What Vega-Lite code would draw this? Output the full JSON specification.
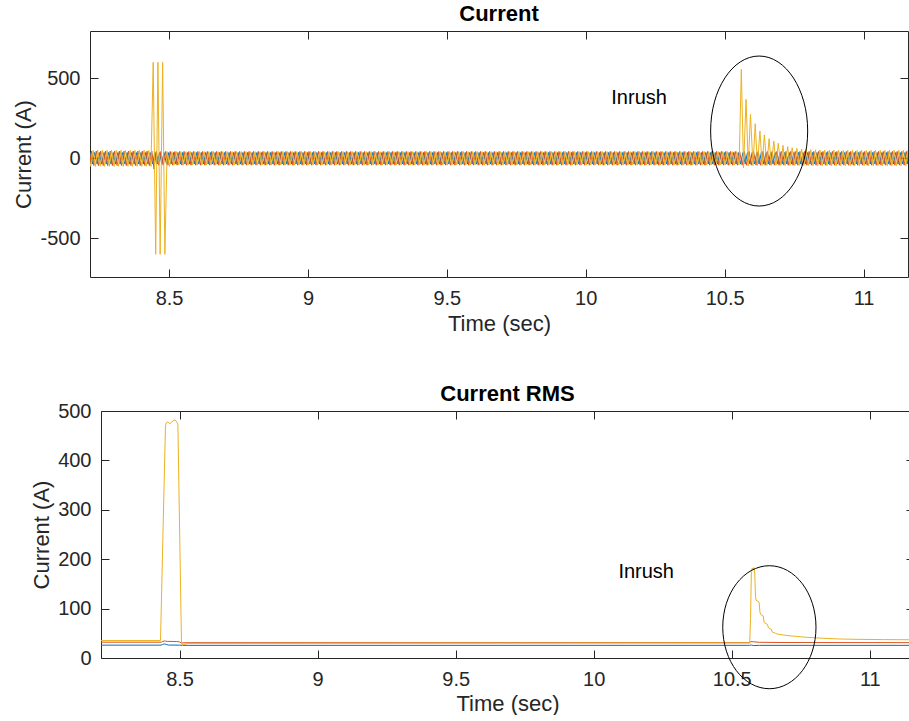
{
  "$schema": "https://vega.github.io/schema/vega-lite/v6.json",
  "background": "white",
  "padding": {"left": 12, "top": 2, "right": 0, "bottom": 0},
  "bounds": "flush",
  "spacing": 134,
  "config": {
    "font": "Liberation Sans",
    "view": {"stroke": "#262626", "strokeWidth": 1},
    "axis": {
      "grid": false,
      "domain": false,
      "tickSize": -8,
      "tickColor": "#262626",
      "tickWidth": 1,
      "labelColor": "#262626",
      "titleColor": "#262626",
      "labelFont": "Liberation Sans",
      "titleFont": "Liberation Sans",
      "titleFontWeight": "normal",
      "labelFontSize": 20,
      "titleFontSize": 22
    },
    "title": {"font": "Liberation Sans", "fontWeight": "bold", "fontSize": 22, "color": "#000000"}
  },
  "datasets": {
    "phaseA": [
      {"t":8.207,"i":-36},{"t":8.216,"i":36},{"t":8.224,"i":-36},{"t":8.232,"i":36},{"t":8.241,"i":-36},{"t":8.249,"i":36},{"t":8.257,"i":-36},{"t":8.266,"i":36},{"t":8.274,"i":-36},{"t":8.282,"i":36},{"t":8.291,"i":-36},{"t":8.299,"i":36},
      {"t":8.307,"i":-36},{"t":8.316,"i":36},{"t":8.324,"i":-36},{"t":8.332,"i":36},{"t":8.341,"i":-36},{"t":8.349,"i":36},{"t":8.357,"i":-36},{"t":8.366,"i":36},{"t":8.374,"i":-36},{"t":8.382,"i":36},{"t":8.391,"i":-36},{"t":8.399,"i":36},
      {"t":8.407,"i":-36},{"t":8.416,"i":36},{"t":8.424,"i":-36},{"t":8.432,"i":36},{"t":8.441,"i":-36},{"t":8.449,"i":36},{"t":8.457,"i":-36},{"t":8.466,"i":36},{"t":8.474,"i":-36},{"t":8.482,"i":36},{"t":8.491,"i":-36},{"t":8.499,"i":36},
      {"t":8.507,"i":-36},{"t":8.516,"i":36},{"t":8.524,"i":-36},{"t":8.532,"i":36},{"t":8.541,"i":-36},{"t":8.549,"i":36},{"t":8.557,"i":-36},{"t":8.566,"i":36},{"t":8.574,"i":-36},{"t":8.582,"i":36},{"t":8.591,"i":-36},{"t":8.599,"i":36},
      {"t":8.607,"i":-36},{"t":8.616,"i":36},{"t":8.624,"i":-36},{"t":8.632,"i":36},{"t":8.641,"i":-36},{"t":8.649,"i":36},{"t":8.657,"i":-36},{"t":8.666,"i":36},{"t":8.674,"i":-36},{"t":8.682,"i":36},{"t":8.691,"i":-36},{"t":8.699,"i":36},
      {"t":8.707,"i":-36},{"t":8.716,"i":36},{"t":8.724,"i":-36},{"t":8.732,"i":36},{"t":8.741,"i":-36},{"t":8.749,"i":36},{"t":8.757,"i":-36},{"t":8.766,"i":36},{"t":8.774,"i":-36},{"t":8.782,"i":36},{"t":8.791,"i":-36},{"t":8.799,"i":36},
      {"t":8.807,"i":-36},{"t":8.816,"i":36},{"t":8.824,"i":-36},{"t":8.832,"i":36},{"t":8.841,"i":-36},{"t":8.849,"i":36},{"t":8.857,"i":-36},{"t":8.866,"i":36},{"t":8.874,"i":-36},{"t":8.882,"i":36},{"t":8.891,"i":-36},{"t":8.899,"i":36},
      {"t":8.907,"i":-36},{"t":8.916,"i":36},{"t":8.924,"i":-36},{"t":8.932,"i":36},{"t":8.941,"i":-36},{"t":8.949,"i":36},{"t":8.957,"i":-36},{"t":8.966,"i":36},{"t":8.974,"i":-36},{"t":8.982,"i":36},{"t":8.991,"i":-36},{"t":8.999,"i":36},
      {"t":9.007,"i":-36},{"t":9.016,"i":36},{"t":9.024,"i":-36},{"t":9.032,"i":36},{"t":9.041,"i":-36},{"t":9.049,"i":36},{"t":9.057,"i":-36},{"t":9.066,"i":36},{"t":9.074,"i":-36},{"t":9.082,"i":36},{"t":9.091,"i":-36},{"t":9.099,"i":36},
      {"t":9.107,"i":-36},{"t":9.116,"i":36},{"t":9.124,"i":-36},{"t":9.132,"i":36},{"t":9.141,"i":-36},{"t":9.149,"i":36},{"t":9.157,"i":-36},{"t":9.166,"i":36},{"t":9.174,"i":-36},{"t":9.182,"i":36},{"t":9.191,"i":-36},{"t":9.199,"i":36},
      {"t":9.207,"i":-36},{"t":9.216,"i":36},{"t":9.224,"i":-36},{"t":9.232,"i":36},{"t":9.241,"i":-36},{"t":9.249,"i":36},{"t":9.257,"i":-36},{"t":9.266,"i":36},{"t":9.274,"i":-36},{"t":9.282,"i":36},{"t":9.291,"i":-36},{"t":9.299,"i":36},
      {"t":9.307,"i":-36},{"t":9.316,"i":36},{"t":9.324,"i":-36},{"t":9.332,"i":36},{"t":9.341,"i":-36},{"t":9.349,"i":36},{"t":9.357,"i":-36},{"t":9.366,"i":36},{"t":9.374,"i":-36},{"t":9.382,"i":36},{"t":9.391,"i":-36},{"t":9.399,"i":36},
      {"t":9.407,"i":-36},{"t":9.416,"i":36},{"t":9.424,"i":-36},{"t":9.432,"i":36},{"t":9.441,"i":-36},{"t":9.449,"i":36},{"t":9.457,"i":-36},{"t":9.466,"i":36},{"t":9.474,"i":-36},{"t":9.482,"i":36},{"t":9.491,"i":-36},{"t":9.499,"i":36},
      {"t":9.507,"i":-36},{"t":9.516,"i":36},{"t":9.524,"i":-36},{"t":9.532,"i":36},{"t":9.541,"i":-36},{"t":9.549,"i":36},{"t":9.557,"i":-36},{"t":9.566,"i":36},{"t":9.574,"i":-36},{"t":9.582,"i":36},{"t":9.591,"i":-36},{"t":9.599,"i":36},
      {"t":9.607,"i":-36},{"t":9.616,"i":36},{"t":9.624,"i":-36},{"t":9.632,"i":36},{"t":9.641,"i":-36},{"t":9.649,"i":36},{"t":9.657,"i":-36},{"t":9.666,"i":36},{"t":9.674,"i":-36},{"t":9.682,"i":36},{"t":9.691,"i":-36},{"t":9.699,"i":36},
      {"t":9.707,"i":-36},{"t":9.716,"i":36},{"t":9.724,"i":-36},{"t":9.732,"i":36},{"t":9.741,"i":-36},{"t":9.749,"i":36},{"t":9.757,"i":-36},{"t":9.766,"i":36},{"t":9.774,"i":-36},{"t":9.782,"i":36},{"t":9.791,"i":-36},{"t":9.799,"i":36},
      {"t":9.807,"i":-36},{"t":9.816,"i":36},{"t":9.824,"i":-36},{"t":9.832,"i":36},{"t":9.841,"i":-36},{"t":9.849,"i":36},{"t":9.857,"i":-36},{"t":9.866,"i":36},{"t":9.874,"i":-36},{"t":9.882,"i":36},{"t":9.891,"i":-36},{"t":9.899,"i":36},
      {"t":9.907,"i":-36},{"t":9.916,"i":36},{"t":9.924,"i":-36},{"t":9.932,"i":36},{"t":9.941,"i":-36},{"t":9.949,"i":36},{"t":9.957,"i":-36},{"t":9.966,"i":36},{"t":9.974,"i":-36},{"t":9.982,"i":36},{"t":9.991,"i":-36},{"t":9.999,"i":36},
      {"t":10.007,"i":-36},{"t":10.016,"i":36},{"t":10.024,"i":-36},{"t":10.032,"i":36},{"t":10.041,"i":-36},{"t":10.049,"i":36},{"t":10.057,"i":-36},{"t":10.066,"i":36},{"t":10.074,"i":-36},{"t":10.082,"i":36},{"t":10.091,"i":-36},{"t":10.099,"i":36},
      {"t":10.107,"i":-36},{"t":10.116,"i":36},{"t":10.124,"i":-36},{"t":10.132,"i":36},{"t":10.141,"i":-36},{"t":10.149,"i":36},{"t":10.157,"i":-36},{"t":10.166,"i":36},{"t":10.174,"i":-36},{"t":10.182,"i":36},{"t":10.191,"i":-36},{"t":10.199,"i":36},
      {"t":10.207,"i":-36},{"t":10.216,"i":36},{"t":10.224,"i":-36},{"t":10.232,"i":36},{"t":10.241,"i":-36},{"t":10.249,"i":36},{"t":10.257,"i":-36},{"t":10.266,"i":36},{"t":10.274,"i":-36},{"t":10.282,"i":36},{"t":10.291,"i":-36},{"t":10.299,"i":36},
      {"t":10.307,"i":-36},{"t":10.316,"i":36},{"t":10.324,"i":-36},{"t":10.332,"i":36},{"t":10.341,"i":-36},{"t":10.349,"i":36},{"t":10.357,"i":-36},{"t":10.366,"i":36},{"t":10.374,"i":-36},{"t":10.382,"i":36},{"t":10.391,"i":-36},{"t":10.399,"i":36},
      {"t":10.407,"i":-36},{"t":10.416,"i":36},{"t":10.424,"i":-36},{"t":10.432,"i":36},{"t":10.441,"i":-36},{"t":10.449,"i":36},{"t":10.457,"i":-36},{"t":10.466,"i":36},{"t":10.474,"i":-36},{"t":10.482,"i":36},{"t":10.491,"i":-36},{"t":10.499,"i":36},
      {"t":10.507,"i":-36},{"t":10.516,"i":36},{"t":10.524,"i":-36},{"t":10.532,"i":36},{"t":10.541,"i":-36},{"t":10.549,"i":36},{"t":10.557,"i":-36},{"t":10.566,"i":36},{"t":10.574,"i":-36},{"t":10.582,"i":36},{"t":10.591,"i":-36},{"t":10.599,"i":36},
      {"t":10.607,"i":-36},{"t":10.616,"i":36},{"t":10.624,"i":-36},{"t":10.632,"i":36},{"t":10.641,"i":-36},{"t":10.649,"i":36},{"t":10.657,"i":-36},{"t":10.666,"i":36},{"t":10.674,"i":-36},{"t":10.682,"i":36},{"t":10.691,"i":-36},{"t":10.699,"i":36},
      {"t":10.707,"i":-36},{"t":10.716,"i":36},{"t":10.724,"i":-36},{"t":10.732,"i":36},{"t":10.741,"i":-36},{"t":10.749,"i":36},{"t":10.757,"i":-36},{"t":10.766,"i":36},{"t":10.774,"i":-36},{"t":10.782,"i":36},{"t":10.791,"i":-36},{"t":10.799,"i":36},
      {"t":10.807,"i":-36},{"t":10.816,"i":36},{"t":10.824,"i":-36},{"t":10.832,"i":36},{"t":10.841,"i":-36},{"t":10.849,"i":36},{"t":10.857,"i":-36},{"t":10.866,"i":36},{"t":10.874,"i":-36},{"t":10.882,"i":36},{"t":10.891,"i":-36},{"t":10.899,"i":36},
      {"t":10.907,"i":-36},{"t":10.916,"i":36},{"t":10.924,"i":-36},{"t":10.932,"i":36},{"t":10.941,"i":-36},{"t":10.949,"i":36},{"t":10.957,"i":-36},{"t":10.966,"i":36},{"t":10.974,"i":-36},{"t":10.982,"i":36},{"t":10.991,"i":-36},{"t":10.999,"i":36},
      {"t":11.007,"i":-36},{"t":11.016,"i":36},{"t":11.024,"i":-36},{"t":11.032,"i":36},{"t":11.041,"i":-36},{"t":11.049,"i":36},{"t":11.057,"i":-36},{"t":11.066,"i":36},{"t":11.074,"i":-36},{"t":11.082,"i":36},{"t":11.091,"i":-36},{"t":11.099,"i":36},
      {"t":11.107,"i":-36},{"t":11.116,"i":36},{"t":11.124,"i":-36},{"t":11.132,"i":36},{"t":11.141,"i":-36},{"t":11.149,"i":36},{"t":11.157,"i":-36},{"t":11.166,"i":36},{"t":11.174,"i":-36},{"t":11.182,"i":36},{"t":11.191,"i":-36},{"t":11.199,"i":36}
    ],
    "phaseB": [
      {"t":8.204,"i":45},{"t":8.213,"i":-45},{"t":8.221,"i":45},{"t":8.229,"i":-45},{"t":8.238,"i":45},{"t":8.246,"i":-45},{"t":8.254,"i":45},{"t":8.263,"i":-45},{"t":8.271,"i":45},{"t":8.279,"i":-45},{"t":8.288,"i":45},{"t":8.296,"i":-45},
      {"t":8.304,"i":45},{"t":8.313,"i":-45},{"t":8.321,"i":45},{"t":8.329,"i":-45},{"t":8.338,"i":45},{"t":8.346,"i":-45},{"t":8.354,"i":45},{"t":8.363,"i":-45},{"t":8.371,"i":45},{"t":8.379,"i":-45},{"t":8.388,"i":45},{"t":8.396,"i":-45},
      {"t":8.404,"i":45},{"t":8.413,"i":-45},{"t":8.421,"i":45},{"t":8.429,"i":-45},{"t":8.438,"i":45},{"t":8.446,"i":-67},{"t":8.454,"i":43},{"t":8.463,"i":-43},{"t":8.471,"i":43},{"t":8.479,"i":-43},{"t":8.488,"i":43},{"t":8.496,"i":-43},
      {"t":8.504,"i":43},{"t":8.513,"i":-43},{"t":8.521,"i":43},{"t":8.529,"i":-43},{"t":8.538,"i":43},{"t":8.546,"i":-43},{"t":8.554,"i":43},{"t":8.563,"i":-43},{"t":8.571,"i":43},{"t":8.579,"i":-43},{"t":8.588,"i":43},{"t":8.596,"i":-43},
      {"t":8.604,"i":43},{"t":8.613,"i":-43},{"t":8.621,"i":43},{"t":8.629,"i":-43},{"t":8.638,"i":43},{"t":8.646,"i":-43},{"t":8.654,"i":43},{"t":8.663,"i":-43},{"t":8.671,"i":43},{"t":8.679,"i":-43},{"t":8.688,"i":43},{"t":8.696,"i":-43},
      {"t":8.704,"i":43},{"t":8.713,"i":-43},{"t":8.721,"i":43},{"t":8.729,"i":-43},{"t":8.738,"i":43},{"t":8.746,"i":-43},{"t":8.754,"i":43},{"t":8.763,"i":-43},{"t":8.771,"i":43},{"t":8.779,"i":-43},{"t":8.788,"i":43},{"t":8.796,"i":-43},
      {"t":8.804,"i":43},{"t":8.813,"i":-43},{"t":8.821,"i":43},{"t":8.829,"i":-43},{"t":8.838,"i":43},{"t":8.846,"i":-43},{"t":8.854,"i":43},{"t":8.863,"i":-43},{"t":8.871,"i":43},{"t":8.879,"i":-43},{"t":8.888,"i":43},{"t":8.896,"i":-43},
      {"t":8.904,"i":43},{"t":8.913,"i":-43},{"t":8.921,"i":43},{"t":8.929,"i":-43},{"t":8.938,"i":43},{"t":8.946,"i":-43},{"t":8.954,"i":43},{"t":8.963,"i":-43},{"t":8.971,"i":43},{"t":8.979,"i":-43},{"t":8.988,"i":43},{"t":8.996,"i":-43},
      {"t":9.004,"i":43},{"t":9.013,"i":-43},{"t":9.021,"i":43},{"t":9.029,"i":-43},{"t":9.038,"i":43},{"t":9.046,"i":-43},{"t":9.054,"i":43},{"t":9.063,"i":-43},{"t":9.071,"i":43},{"t":9.079,"i":-43},{"t":9.088,"i":43},{"t":9.096,"i":-43},
      {"t":9.104,"i":43},{"t":9.113,"i":-43},{"t":9.121,"i":43},{"t":9.129,"i":-43},{"t":9.138,"i":43},{"t":9.146,"i":-43},{"t":9.154,"i":43},{"t":9.163,"i":-43},{"t":9.171,"i":43},{"t":9.179,"i":-43},{"t":9.188,"i":43},{"t":9.196,"i":-43},
      {"t":9.204,"i":43},{"t":9.213,"i":-43},{"t":9.221,"i":43},{"t":9.229,"i":-43},{"t":9.238,"i":43},{"t":9.246,"i":-43},{"t":9.254,"i":43},{"t":9.263,"i":-43},{"t":9.271,"i":43},{"t":9.279,"i":-43},{"t":9.288,"i":43},{"t":9.296,"i":-43},
      {"t":9.304,"i":43},{"t":9.313,"i":-43},{"t":9.321,"i":43},{"t":9.329,"i":-43},{"t":9.338,"i":43},{"t":9.346,"i":-43},{"t":9.354,"i":43},{"t":9.363,"i":-43},{"t":9.371,"i":43},{"t":9.379,"i":-43},{"t":9.388,"i":43},{"t":9.396,"i":-43},
      {"t":9.404,"i":43},{"t":9.413,"i":-43},{"t":9.421,"i":43},{"t":9.429,"i":-43},{"t":9.438,"i":43},{"t":9.446,"i":-43},{"t":9.454,"i":43},{"t":9.463,"i":-43},{"t":9.471,"i":43},{"t":9.479,"i":-43},{"t":9.488,"i":43},{"t":9.496,"i":-43},
      {"t":9.504,"i":43},{"t":9.513,"i":-43},{"t":9.521,"i":43},{"t":9.529,"i":-43},{"t":9.538,"i":43},{"t":9.546,"i":-43},{"t":9.554,"i":43},{"t":9.563,"i":-43},{"t":9.571,"i":43},{"t":9.579,"i":-43},{"t":9.588,"i":43},{"t":9.596,"i":-43},
      {"t":9.604,"i":43},{"t":9.613,"i":-43},{"t":9.621,"i":43},{"t":9.629,"i":-43},{"t":9.638,"i":43},{"t":9.646,"i":-43},{"t":9.654,"i":43},{"t":9.663,"i":-43},{"t":9.671,"i":43},{"t":9.679,"i":-43},{"t":9.688,"i":43},{"t":9.696,"i":-43},
      {"t":9.704,"i":43},{"t":9.713,"i":-43},{"t":9.721,"i":43},{"t":9.729,"i":-43},{"t":9.738,"i":43},{"t":9.746,"i":-43},{"t":9.754,"i":43},{"t":9.763,"i":-43},{"t":9.771,"i":43},{"t":9.779,"i":-43},{"t":9.788,"i":43},{"t":9.796,"i":-43},
      {"t":9.804,"i":43},{"t":9.813,"i":-43},{"t":9.821,"i":43},{"t":9.829,"i":-43},{"t":9.838,"i":43},{"t":9.846,"i":-43},{"t":9.854,"i":43},{"t":9.863,"i":-43},{"t":9.871,"i":43},{"t":9.879,"i":-43},{"t":9.888,"i":43},{"t":9.896,"i":-43},
      {"t":9.904,"i":43},{"t":9.913,"i":-43},{"t":9.921,"i":43},{"t":9.929,"i":-43},{"t":9.938,"i":43},{"t":9.946,"i":-43},{"t":9.954,"i":43},{"t":9.963,"i":-43},{"t":9.971,"i":43},{"t":9.979,"i":-43},{"t":9.988,"i":43},{"t":9.996,"i":-43},
      {"t":10.004,"i":43},{"t":10.013,"i":-43},{"t":10.021,"i":43},{"t":10.029,"i":-43},{"t":10.038,"i":43},{"t":10.046,"i":-43},{"t":10.054,"i":43},{"t":10.063,"i":-43},{"t":10.071,"i":43},{"t":10.079,"i":-43},{"t":10.088,"i":43},{"t":10.096,"i":-43},
      {"t":10.104,"i":43},{"t":10.113,"i":-43},{"t":10.121,"i":43},{"t":10.129,"i":-43},{"t":10.138,"i":43},{"t":10.146,"i":-43},{"t":10.154,"i":43},{"t":10.163,"i":-43},{"t":10.171,"i":43},{"t":10.179,"i":-43},{"t":10.188,"i":43},{"t":10.196,"i":-43},
      {"t":10.204,"i":43},{"t":10.213,"i":-43},{"t":10.221,"i":43},{"t":10.229,"i":-43},{"t":10.238,"i":43},{"t":10.246,"i":-43},{"t":10.254,"i":43},{"t":10.263,"i":-43},{"t":10.271,"i":43},{"t":10.279,"i":-43},{"t":10.288,"i":43},{"t":10.296,"i":-43},
      {"t":10.304,"i":43},{"t":10.313,"i":-43},{"t":10.321,"i":43},{"t":10.329,"i":-43},{"t":10.338,"i":43},{"t":10.346,"i":-43},{"t":10.354,"i":43},{"t":10.363,"i":-43},{"t":10.371,"i":43},{"t":10.379,"i":-43},{"t":10.388,"i":43},{"t":10.396,"i":-43},
      {"t":10.404,"i":43},{"t":10.413,"i":-43},{"t":10.421,"i":43},{"t":10.429,"i":-43},{"t":10.438,"i":43},{"t":10.446,"i":-43},{"t":10.454,"i":43},{"t":10.463,"i":-43},{"t":10.471,"i":43},{"t":10.479,"i":-43},{"t":10.488,"i":43},{"t":10.496,"i":-43},
      {"t":10.504,"i":43},{"t":10.513,"i":-43},{"t":10.521,"i":43},{"t":10.529,"i":-43},{"t":10.538,"i":43},{"t":10.546,"i":-43},{"t":10.554,"i":43},{"t":10.563,"i":-43},{"t":10.571,"i":43},{"t":10.579,"i":-43},{"t":10.588,"i":43},{"t":10.596,"i":-43},
      {"t":10.604,"i":43},{"t":10.613,"i":-43},{"t":10.621,"i":43},{"t":10.629,"i":-43},{"t":10.638,"i":43},{"t":10.646,"i":-43},{"t":10.654,"i":43},{"t":10.663,"i":-43},{"t":10.671,"i":43},{"t":10.679,"i":-43},{"t":10.688,"i":43},{"t":10.696,"i":-43},
      {"t":10.704,"i":43},{"t":10.713,"i":-43},{"t":10.721,"i":43},{"t":10.729,"i":-43},{"t":10.738,"i":43},{"t":10.746,"i":-43},{"t":10.754,"i":43},{"t":10.763,"i":-43},{"t":10.771,"i":43},{"t":10.779,"i":-43},{"t":10.788,"i":43},{"t":10.796,"i":-43},
      {"t":10.804,"i":43},{"t":10.813,"i":-43},{"t":10.821,"i":43},{"t":10.829,"i":-43},{"t":10.838,"i":43},{"t":10.846,"i":-43},{"t":10.854,"i":43},{"t":10.863,"i":-43},{"t":10.871,"i":43},{"t":10.879,"i":-43},{"t":10.888,"i":43},{"t":10.896,"i":-43},
      {"t":10.904,"i":43},{"t":10.913,"i":-43},{"t":10.921,"i":43},{"t":10.929,"i":-43},{"t":10.938,"i":43},{"t":10.946,"i":-43},{"t":10.954,"i":43},{"t":10.963,"i":-43},{"t":10.971,"i":43},{"t":10.979,"i":-43},{"t":10.988,"i":43},{"t":10.996,"i":-43},
      {"t":11.004,"i":43},{"t":11.013,"i":-43},{"t":11.021,"i":43},{"t":11.029,"i":-43},{"t":11.038,"i":43},{"t":11.046,"i":-43},{"t":11.054,"i":43},{"t":11.063,"i":-43},{"t":11.071,"i":43},{"t":11.079,"i":-43},{"t":11.088,"i":43},{"t":11.096,"i":-43},
      {"t":11.104,"i":43},{"t":11.113,"i":-43},{"t":11.121,"i":43},{"t":11.129,"i":-43},{"t":11.138,"i":43},{"t":11.146,"i":-43},{"t":11.154,"i":43},{"t":11.163,"i":-43},{"t":11.171,"i":43},{"t":11.179,"i":-43},{"t":11.188,"i":43},{"t":11.196,"i":-43}
    ],
    "phaseC": [
      {"t":8.202,"i":-50},{"t":8.210,"i":50},{"t":8.218,"i":-50},{"t":8.227,"i":50},{"t":8.235,"i":-50},{"t":8.243,"i":50},{"t":8.252,"i":-50},{"t":8.260,"i":50},{"t":8.268,"i":-50},{"t":8.277,"i":50},{"t":8.285,"i":-50},{"t":8.293,"i":50},
      {"t":8.302,"i":-50},{"t":8.310,"i":50},{"t":8.318,"i":-50},{"t":8.327,"i":50},{"t":8.335,"i":-50},{"t":8.343,"i":50},{"t":8.352,"i":-50},{"t":8.360,"i":50},{"t":8.368,"i":-50},{"t":8.377,"i":50},{"t":8.385,"i":-50},{"t":8.393,"i":50},
      {"t":8.402,"i":-50},{"t":8.410,"i":50},{"t":8.418,"i":-50},{"t":8.427,"i":50},{"t":8.435,"i":-50},{"t":8.443,"i":600},{"t":8.452,"i":-600},{"t":8.460,"i":600},{"t":8.468,"i":-600},{"t":8.477,"i":600},{"t":8.485,"i":-600},{"t":8.493,"i":42},
      {"t":8.502,"i":-50},{"t":8.510,"i":42},{"t":8.518,"i":-42},{"t":8.527,"i":42},{"t":8.535,"i":-42},{"t":8.543,"i":42},{"t":8.552,"i":-42},{"t":8.560,"i":42},{"t":8.568,"i":-42},{"t":8.577,"i":42},{"t":8.585,"i":-42},{"t":8.593,"i":42},
      {"t":8.602,"i":-42},{"t":8.610,"i":42},{"t":8.618,"i":-42},{"t":8.627,"i":42},{"t":8.635,"i":-42},{"t":8.643,"i":42},{"t":8.652,"i":-42},{"t":8.660,"i":42},{"t":8.668,"i":-42},{"t":8.677,"i":42},{"t":8.685,"i":-42},{"t":8.693,"i":42},
      {"t":8.702,"i":-42},{"t":8.710,"i":42},{"t":8.718,"i":-42},{"t":8.727,"i":42},{"t":8.735,"i":-42},{"t":8.743,"i":42},{"t":8.752,"i":-42},{"t":8.760,"i":42},{"t":8.768,"i":-42},{"t":8.777,"i":42},{"t":8.785,"i":-42},{"t":8.793,"i":42},
      {"t":8.802,"i":-42},{"t":8.810,"i":42},{"t":8.818,"i":-42},{"t":8.827,"i":42},{"t":8.835,"i":-42},{"t":8.843,"i":42},{"t":8.852,"i":-42},{"t":8.860,"i":42},{"t":8.868,"i":-42},{"t":8.877,"i":42},{"t":8.885,"i":-42},{"t":8.893,"i":42},
      {"t":8.902,"i":-42},{"t":8.910,"i":42},{"t":8.918,"i":-42},{"t":8.927,"i":42},{"t":8.935,"i":-42},{"t":8.943,"i":42},{"t":8.952,"i":-42},{"t":8.960,"i":42},{"t":8.968,"i":-42},{"t":8.977,"i":42},{"t":8.985,"i":-42},{"t":8.993,"i":42},
      {"t":9.002,"i":-42},{"t":9.010,"i":42},{"t":9.018,"i":-42},{"t":9.027,"i":42},{"t":9.035,"i":-42},{"t":9.043,"i":42},{"t":9.052,"i":-42},{"t":9.060,"i":42},{"t":9.068,"i":-42},{"t":9.077,"i":42},{"t":9.085,"i":-42},{"t":9.093,"i":42},
      {"t":9.102,"i":-42},{"t":9.110,"i":42},{"t":9.118,"i":-42},{"t":9.127,"i":42},{"t":9.135,"i":-42},{"t":9.143,"i":42},{"t":9.152,"i":-42},{"t":9.160,"i":42},{"t":9.168,"i":-42},{"t":9.177,"i":42},{"t":9.185,"i":-42},{"t":9.193,"i":42},
      {"t":9.202,"i":-42},{"t":9.210,"i":42},{"t":9.218,"i":-42},{"t":9.227,"i":42},{"t":9.235,"i":-42},{"t":9.243,"i":42},{"t":9.252,"i":-42},{"t":9.260,"i":42},{"t":9.268,"i":-42},{"t":9.277,"i":42},{"t":9.285,"i":-42},{"t":9.293,"i":42},
      {"t":9.302,"i":-42},{"t":9.310,"i":42},{"t":9.318,"i":-42},{"t":9.327,"i":42},{"t":9.335,"i":-42},{"t":9.343,"i":42},{"t":9.352,"i":-42},{"t":9.360,"i":42},{"t":9.368,"i":-42},{"t":9.377,"i":42},{"t":9.385,"i":-42},{"t":9.393,"i":42},
      {"t":9.402,"i":-42},{"t":9.410,"i":42},{"t":9.418,"i":-42},{"t":9.427,"i":42},{"t":9.435,"i":-42},{"t":9.443,"i":42},{"t":9.452,"i":-42},{"t":9.460,"i":42},{"t":9.468,"i":-42},{"t":9.477,"i":42},{"t":9.485,"i":-42},{"t":9.493,"i":42},
      {"t":9.502,"i":-42},{"t":9.510,"i":42},{"t":9.518,"i":-42},{"t":9.527,"i":42},{"t":9.535,"i":-42},{"t":9.543,"i":42},{"t":9.552,"i":-42},{"t":9.560,"i":42},{"t":9.568,"i":-42},{"t":9.577,"i":42},{"t":9.585,"i":-42},{"t":9.593,"i":42},
      {"t":9.602,"i":-42},{"t":9.610,"i":42},{"t":9.618,"i":-42},{"t":9.627,"i":42},{"t":9.635,"i":-42},{"t":9.643,"i":42},{"t":9.652,"i":-42},{"t":9.660,"i":42},{"t":9.668,"i":-42},{"t":9.677,"i":42},{"t":9.685,"i":-42},{"t":9.693,"i":42},
      {"t":9.702,"i":-42},{"t":9.710,"i":42},{"t":9.718,"i":-42},{"t":9.727,"i":42},{"t":9.735,"i":-42},{"t":9.743,"i":42},{"t":9.752,"i":-42},{"t":9.760,"i":42},{"t":9.768,"i":-42},{"t":9.777,"i":42},{"t":9.785,"i":-42},{"t":9.793,"i":42},
      {"t":9.802,"i":-42},{"t":9.810,"i":42},{"t":9.818,"i":-42},{"t":9.827,"i":42},{"t":9.835,"i":-42},{"t":9.843,"i":42},{"t":9.852,"i":-42},{"t":9.860,"i":42},{"t":9.868,"i":-42},{"t":9.877,"i":42},{"t":9.885,"i":-42},{"t":9.893,"i":42},
      {"t":9.902,"i":-42},{"t":9.910,"i":42},{"t":9.918,"i":-42},{"t":9.927,"i":42},{"t":9.935,"i":-42},{"t":9.943,"i":42},{"t":9.952,"i":-42},{"t":9.960,"i":42},{"t":9.968,"i":-42},{"t":9.977,"i":42},{"t":9.985,"i":-42},{"t":9.993,"i":42},
      {"t":10.002,"i":-42},{"t":10.010,"i":42},{"t":10.018,"i":-42},{"t":10.027,"i":42},{"t":10.035,"i":-42},{"t":10.043,"i":42},{"t":10.052,"i":-42},{"t":10.060,"i":42},{"t":10.068,"i":-42},{"t":10.077,"i":42},{"t":10.085,"i":-42},{"t":10.093,"i":42},
      {"t":10.102,"i":-42},{"t":10.110,"i":42},{"t":10.118,"i":-42},{"t":10.127,"i":42},{"t":10.135,"i":-42},{"t":10.143,"i":42},{"t":10.152,"i":-42},{"t":10.160,"i":42},{"t":10.168,"i":-42},{"t":10.177,"i":42},{"t":10.185,"i":-42},{"t":10.193,"i":42},
      {"t":10.202,"i":-42},{"t":10.210,"i":42},{"t":10.218,"i":-42},{"t":10.227,"i":42},{"t":10.235,"i":-42},{"t":10.243,"i":42},{"t":10.252,"i":-42},{"t":10.260,"i":42},{"t":10.268,"i":-42},{"t":10.277,"i":42},{"t":10.285,"i":-42},{"t":10.293,"i":42},
      {"t":10.302,"i":-42},{"t":10.310,"i":42},{"t":10.318,"i":-42},{"t":10.327,"i":42},{"t":10.335,"i":-42},{"t":10.343,"i":42},{"t":10.352,"i":-42},{"t":10.360,"i":42},{"t":10.368,"i":-42},{"t":10.377,"i":42},{"t":10.385,"i":-42},{"t":10.393,"i":42},
      {"t":10.402,"i":-42},{"t":10.410,"i":42},{"t":10.418,"i":-42},{"t":10.427,"i":42},{"t":10.435,"i":-42},{"t":10.443,"i":42},{"t":10.452,"i":-42},{"t":10.460,"i":42},{"t":10.468,"i":-42},{"t":10.477,"i":42},{"t":10.485,"i":-42},{"t":10.493,"i":42},
      {"t":10.502,"i":-42},{"t":10.510,"i":42},{"t":10.518,"i":-42},{"t":10.527,"i":42},{"t":10.535,"i":-42},{"t":10.543,"i":42},{"t":10.552,"i":-42},{"t":10.560,"i":556},{"t":10.568,"i":-60},{"t":10.577,"i":369},{"t":10.585,"i":-48},{"t":10.593,"i":275},
      {"t":10.602,"i":-46},{"t":10.610,"i":216},{"t":10.618,"i":-45},{"t":10.627,"i":171},{"t":10.635,"i":-44},{"t":10.643,"i":146},{"t":10.652,"i":-44},{"t":10.660,"i":123},{"t":10.668,"i":-44},{"t":10.677,"i":108},{"t":10.685,"i":-44},{"t":10.693,"i":94},
      {"t":10.702,"i":-44},{"t":10.710,"i":81},{"t":10.718,"i":-44},{"t":10.727,"i":73},{"t":10.735,"i":-44},{"t":10.743,"i":66},{"t":10.752,"i":-45},{"t":10.760,"i":62},{"t":10.768,"i":-45},{"t":10.777,"i":58},{"t":10.785,"i":-45},{"t":10.793,"i":55},
      {"t":10.802,"i":-45},{"t":10.810,"i":54},{"t":10.818,"i":-45},{"t":10.827,"i":53},{"t":10.835,"i":-46},{"t":10.843,"i":52},{"t":10.852,"i":-46},{"t":10.860,"i":52},{"t":10.868,"i":-46},{"t":10.877,"i":51},{"t":10.885,"i":-46},{"t":10.893,"i":51},
      {"t":10.902,"i":-46},{"t":10.910,"i":50},{"t":10.918,"i":-46},{"t":10.927,"i":50},{"t":10.935,"i":-46},{"t":10.943,"i":50},{"t":10.952,"i":-46},{"t":10.960,"i":50},{"t":10.968,"i":-46},{"t":10.977,"i":50},{"t":10.985,"i":-46},{"t":10.993,"i":50},
      {"t":11.002,"i":-46},{"t":11.010,"i":50},{"t":11.018,"i":-46},{"t":11.027,"i":50},{"t":11.035,"i":-46},{"t":11.043,"i":50},{"t":11.052,"i":-46},{"t":11.060,"i":50},{"t":11.068,"i":-46},{"t":11.077,"i":50},{"t":11.085,"i":-46},{"t":11.093,"i":50},
      {"t":11.102,"i":-46},{"t":11.110,"i":50},{"t":11.118,"i":-46},{"t":11.127,"i":50},{"t":11.135,"i":-46},{"t":11.143,"i":50},{"t":11.152,"i":-46},{"t":11.160,"i":50},{"t":11.168,"i":-46},{"t":11.177,"i":50},{"t":11.185,"i":-46},{"t":11.193,"i":50}
    ],
    "rmsA": [
      {"t":8.2,"i":26},{"t":8.433,"i":26},{"t":8.439,"i":27.5},{"t":8.445,"i":28.5},{"t":8.452,"i":27.5},{"t":8.46,"i":26.2},{"t":8.5,"i":26},{"t":8.51,"i":25.6},
      {"t":10.565,"i":25.6},{"t":10.571,"i":26.4},{"t":10.578,"i":25.2},{"t":10.6,"i":25.6},{"t":11.2,"i":25.6}
    ],
    "rmsB": [
      {"t":8.2,"i":32},{"t":8.434,"i":32},{"t":8.44,"i":33.8},{"t":8.447,"i":34.5},{"t":8.455,"i":33.6},{"t":8.49,"i":33.4},{"t":8.5,"i":32.5},{"t":8.507,"i":30.5},{"t":8.53,"i":31},
      {"t":10.565,"i":31},{"t":10.57,"i":33.5},{"t":10.578,"i":32.8},{"t":10.6,"i":31.8},{"t":10.7,"i":31.3},{"t":11.2,"i":31}
    ],
    "rmsC": [
      {"t":8.2,"i":35.3},{"t":8.431,"i":35.3},{"t":8.449,"i":470},{"t":8.452,"i":476},{"t":8.458,"i":478},{"t":8.465,"i":474},{"t":8.47,"i":477},{"t":8.476,"i":480},{"t":8.483,"i":482},{"t":8.49,"i":478},{"t":8.494,"i":472},
      {"t":8.507,"i":30},{"t":8.511,"i":26},{"t":8.516,"i":27.5},{"t":8.53,"i":29.5},{"t":10.565,"i":30.5},
      {"t":10.568,"i":80},{"t":10.571,"i":175},{"t":10.574,"i":182},{"t":10.577,"i":180},{"t":10.58,"i":183},{"t":10.583,"i":176},{"t":10.586,"i":125},{"t":10.588,"i":117},{"t":10.599,"i":113},
      {"t":10.602,"i":93},{"t":10.605,"i":88},{"t":10.614,"i":85},{"t":10.617,"i":72},{"t":10.629,"i":68},{"t":10.633,"i":61},{"t":10.643,"i":58},{"t":10.646,"i":53},{"t":10.658,"i":50},{"t":10.668,"i":48},
      {"t":10.682,"i":47},{"t":10.7,"i":45.5},{"t":10.73,"i":44},{"t":10.768,"i":42},{"t":10.83,"i":40},{"t":10.889,"i":38.5},{"t":10.95,"i":37.8},{"t":11.05,"i":37.2},{"t":11.2,"i":36.8}
    ]
  },
  "vconcat": [
    {
      "width": 818,
      "height": 246,
      "title": {"text": "Current", "offset": 5},
      "layer": [
        {
          "data": {"name": "phaseA"},
          "mark": {"type": "line", "color": "#0072BD", "strokeWidth": 1, "clip": true},
          "encoding": {
            "x": {"field": "t", "type": "quantitative",
                  "scale": {"domain": [8.2155, 11.16], "nice": false, "zero": false},
                  "axis": {"orient": "bottom", "values": [8.5, 9, 9.5, 10, 10.5, 11], "labelExpr": "'' + datum.value", "title": "Time (sec)", "labelPadding": 19, "titlePadding": 5}},
            "y": {"field": "i", "type": "quantitative",
                  "scale": {"domain": [-742, 796], "nice": false, "zero": false},
                  "axis": {"orient": "left", "values": [-500, 0, 500], "labelExpr": "'' + datum.value", "title": "Current (A)", "labelPadding": 18, "titlePadding": 4}}
          }
        },
        {
          "data": {"name": "phaseB"},
          "mark": {"type": "line", "color": "#D95319", "strokeWidth": 1, "clip": true},
          "encoding": {
            "x": {"field": "t", "type": "quantitative", "axis": {"orient": "top", "values": [8.5, 9, 9.5, 10, 10.5, 11], "labels": false, "title": null}},
            "y": {"field": "i", "type": "quantitative", "axis": {"orient": "right", "values": [-500, 0, 500], "labels": false, "title": null}}
          }
        },
        {
          "data": {"name": "phaseC"},
          "mark": {"type": "line", "color": "#EDB120", "strokeWidth": 1, "clip": true},
          "encoding": {
            "x": {"field": "t", "type": "quantitative", "axis": null},
            "y": {"field": "i", "type": "quantitative", "axis": null}
          }
        },
        {
          "data": {"values": [{"t": 10.192, "i": 377, "note": "Inrush"}]},
          "mark": {"type": "text", "fontSize": 20, "color": "#000000", "align": "center", "baseline": "middle"},
          "encoding": {
            "x": {"field": "t", "type": "quantitative", "axis": null},
            "y": {"field": "i", "type": "quantitative", "axis": null},
            "text": {"field": "note"}
          }
        },
        {
          "data": {"values": [{"t": 10.6242, "i": 170.6}]},
          "mark": {"type": "point", "shape": "M 0.647 0 C 0.647 0.552 0.357 1 0 1 C -0.357 1 -0.647 0.552 -0.647 0 C -0.647 -0.552 -0.357 -1 0 -1 C 0.357 -1 0.647 -0.552 0.647 0 Z", "size": 22500, "filled": false, "color": "#000000", "strokeWidth": 1, "opacity": 1},
          "encoding": {
            "x": {"field": "t", "type": "quantitative", "axis": null},
            "y": {"field": "i", "type": "quantitative", "axis": null}
          }
        }
      ]
    },
    {
      "bounds": "flush",
      "spacing": 0,
      "hconcat": [
        {
          "width": 11,
          "height": 247,
          "view": {"stroke": null},
          "data": {"values": []},
          "mark": {"type": "point"},
          "encoding": {}
        },
        {
          "width": 813,
          "height": 247,
          "title": {"text": "Current RMS", "offset": -5},
          "layer": [
            {
              "data": {"name": "rmsA"},
              "mark": {"type": "line", "color": "#0072BD", "strokeWidth": 1, "clip": true},
              "encoding": {
                "x": {"field": "t", "type": "quantitative",
                      "scale": {"domain": [8.2155, 11.16], "nice": false, "zero": false},
                      "axis": {"orient": "bottom", "values": [8.5, 9, 9.5, 10, 10.5, 11], "labelExpr": "'' + datum.value", "title": "Time (sec)", "labelPadding": 19, "titlePadding": 4}},
                "y": {"field": "i", "type": "quantitative",
                      "scale": {"domain": [0, 500], "nice": false, "zero": false},
                      "axis": {"orient": "left", "values": [0, 100, 200, 300, 400, 500], "labelExpr": "'' + datum.value", "title": "Current (A)", "labelPadding": 18, "titlePadding": 4}}
              }
            },
            {
              "data": {"name": "rmsB"},
              "mark": {"type": "line", "color": "#D95319", "strokeWidth": 1, "clip": true},
              "encoding": {
                "x": {"field": "t", "type": "quantitative", "axis": {"orient": "top", "values": [8.5, 9, 9.5, 10, 10.5, 11], "labels": false, "title": null}},
                "y": {"field": "i", "type": "quantitative", "axis": {"orient": "right", "values": [0, 100, 200, 300, 400, 500], "labels": false, "title": null}}
              }
            },
            {
              "data": {"name": "rmsC"},
              "mark": {"type": "line", "color": "#EDB120", "strokeWidth": 1, "clip": true},
              "encoding": {
                "x": {"field": "t", "type": "quantitative", "axis": null},
                "y": {"field": "i", "type": "quantitative", "axis": null}
              }
            },
            {
              "data": {"values": [{"t": 10.19, "i": 174, "note": "Inrush"}]},
              "mark": {"type": "text", "fontSize": 20, "color": "#000000", "align": "center", "baseline": "middle"},
              "encoding": {
                "x": {"field": "t", "type": "quantitative", "axis": null},
                "y": {"field": "i", "type": "quantitative", "axis": null},
                "text": {"field": "note"}
              }
            },
            {
              "data": {"values": [{"t": 10.6362, "i": 62.3}]},
              "mark": {"type": "point", "shape": "M 0.758 0 C 0.758 0.552 0.419 1 0 1 C -0.419 1 -0.758 0.552 -0.758 0 C -0.758 -0.552 -0.419 -1 0 -1 C 0.419 -1 0.758 -0.552 0.758 0 Z", "size": 15129, "filled": false, "color": "#000000", "strokeWidth": 1, "opacity": 1},
              "encoding": {
                "x": {"field": "t", "type": "quantitative", "axis": null},
                "y": {"field": "i", "type": "quantitative", "axis": null}
              }
            }
          ]
        }
      ]
    }
  ]
}
